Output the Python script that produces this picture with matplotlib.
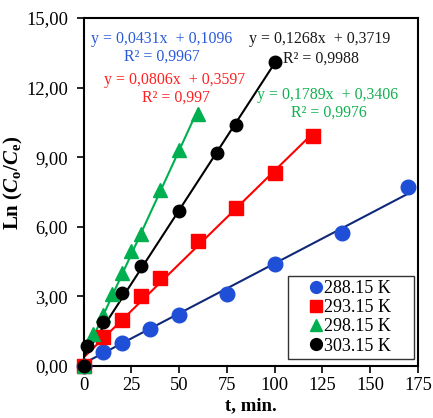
import matplotlib
matplotlib.use("Agg")
import matplotlib.pyplot as plt
import numpy as np

plt.rcParams['font.family'] = ['Liberation Serif', 'DejaVu Serif']
plt.rcParams['mathtext.fontset'] = 'custom'
plt.rcParams['mathtext.rm'] = 'Liberation Serif:bold'
plt.rcParams['mathtext.it'] = 'Liberation Serif:italic:bold'
plt.rcParams['mathtext.bf'] = 'Liberation Serif:bold'

# Data
t_288 = [0, 10, 20, 35, 50, 75, 100, 135, 170]
y_288 = [0.0, 0.6, 1.0, 1.6, 2.2, 3.1, 4.4, 5.75, 7.7]
t_293 = [0, 10, 20, 30, 40, 60, 80, 100, 120]
y_293 = [0.0, 1.25, 2.0, 3.0, 3.8, 5.4, 6.8, 8.3, 9.9]
t_298 = [0, 5, 10, 15, 20, 25, 30, 40, 50, 60]
y_298 = [0.0, 1.4, 2.2, 3.1, 4.0, 4.95, 5.7, 7.6, 9.3, 10.85]
t_303 = [0, 2, 10, 20, 30, 50, 70, 80, 100]
y_303 = [0.0, 0.85, 1.9, 3.15, 4.3, 6.7, 9.2, 10.4, 13.1]

slopes = [0.0431, 0.0806, 0.1789, 0.1268]
intercepts = [0.1096, 0.3597, 0.3406, 0.3719]
labels = ['288.15 K', '293.15 K', '298.15 K', '303.15 K']

xticks = [0, 25, 50, 75, 100, 125, 150, 175]
yticks = [0, 3, 6, 9, 12, 15]

fig = plt.figure(figsize=(4.33, 4.18), dpi=100)
ax = fig.add_axes([83.5/433, 1-366/418, (418-83.5)/433, (366-18)/418])

mcol = ['#1f4fd6', '#ff0000', '#00b050', '#000000']
lcol = ['#10287a', '#ff0000', '#00b050', '#000000']
markers = ['o', 's', '^', 'o']
msizes = [10.5, 9.5, 10, 9]
data = [(t_288, y_288), (t_293, y_293), (t_298, y_298), (t_303, y_303)]

for i, (t, y) in enumerate(data):
    xs = np.array([0, max(t)])
    ax.plot(xs, slopes[i]*xs + intercepts[i], color=lcol[i], lw=1.5, zorder=2)
for i, (t, y) in enumerate(data):
    ax.plot(t, y, linestyle='none', marker=markers[i], ms=msizes[i],
            color=mcol[i], mec=mcol[i], label=labels[i] + '    ', zorder=3, clip_on=False)

ax.set_xlim(0, 175)
ax.set_ylim(0, 15)
ax.set_xticks(xticks)
ax.set_xticklabels([str(v) for v in xticks])
ax.set_yticks(yticks)
ax.set_yticklabels([f'{v:.2f}'.replace('.', ',') for v in yticks])
ax.tick_params(direction='out', length=5, width=1.2, labelsize=13.3, colors='black')
ax.tick_params(axis='y', pad=6)
ax.tick_params(axis='x', pad=3)
for s in ax.spines.values():
    s.set_linewidth(1.5)

ax.set_xlabel('t, min.', fontsize=13.5, fontweight='bold', labelpad=2)
ax.set_ylabel(r'Ln ($\mathit{C}_{\mathrm{o}}$/$\mathit{C}_{\mathrm{e}}$)', fontsize=15, fontweight='bold', labelpad=1)
ax.yaxis.label.set_y((366-183)/348)

leg = ax.legend(loc='lower right', fontsize=13, frameon=True, fancybox=False,
                edgecolor='black', handlelength=2.6, handletextpad=-0.85,
                borderpad=0.25, labelspacing=0.12, borderaxespad=0,
                bbox_to_anchor=(0.988, 0.02))
leg.get_frame().set_linewidth(1.0)
for h in leg.legend_handles:
    h.set_markersize(8.5)

def ftext(px, py, s, c):
    fig.text(px/433, 1-py/418, s, color=c, ha='center', va='center', fontsize=11.4)

tcol = ['#2a5ad8', '#ff2020', '#10b050', '#1a1a1a']
ftext(162, 39, 'y = 0,0431x  + 0,1096', tcol[0])
ftext(162, 57, 'R² = 0,9967', tcol[0])
ftext(175, 80, 'y = 0,0806x  + 0,3597', tcol[1])
ftext(176, 98, 'R² = 0,997', tcol[1])
ftext(320, 39, 'y = 0,1268x  + 0,3719', tcol[3])
ftext(321, 59, 'R² = 0,9988', tcol[3])
ftext(328, 95, 'y = 0,1789x  + 0,3406', tcol[2])
ftext(329, 113, 'R² = 0,9976', tcol[2])

fig.savefig('out.png', dpi=100)
